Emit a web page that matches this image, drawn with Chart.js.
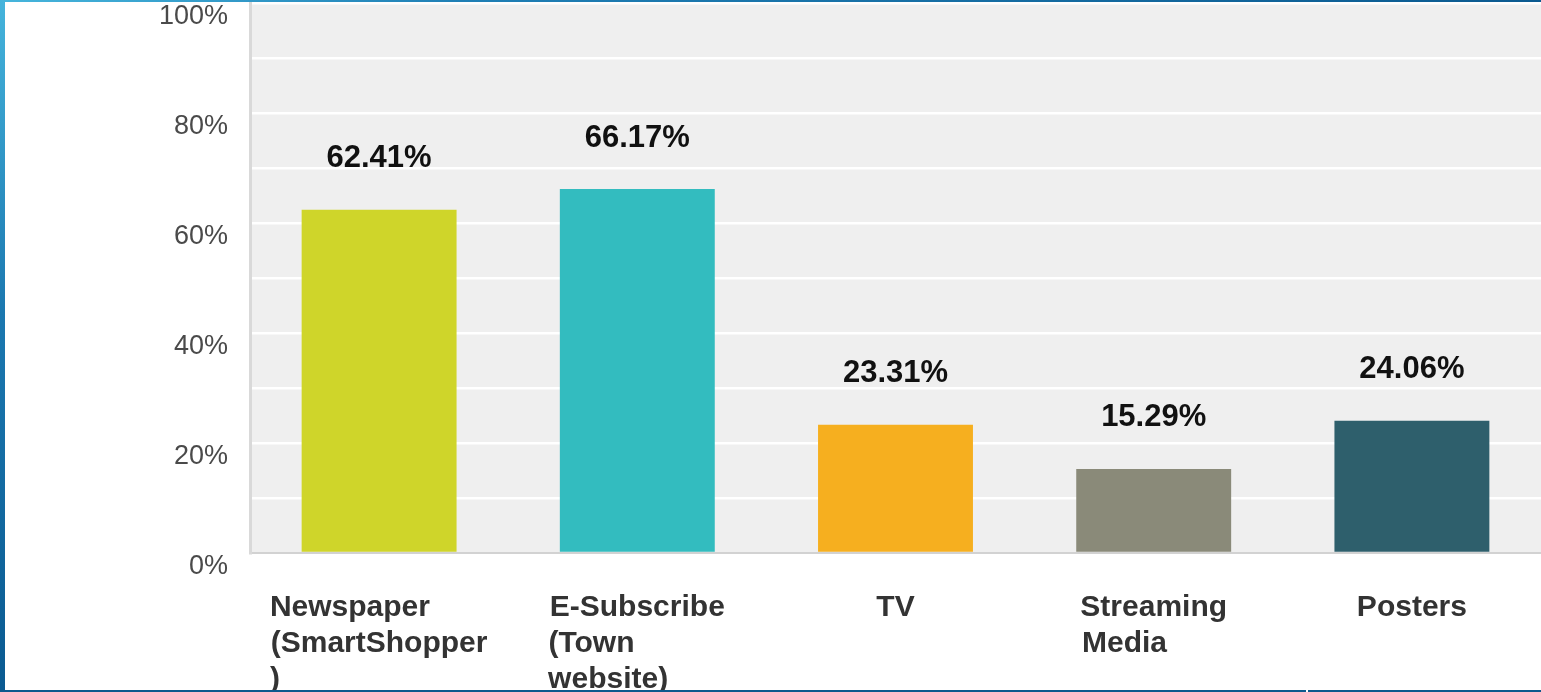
<!DOCTYPE html>
<html lang="en">
<head>
  <meta charset="UTF-8">
  <title>Media reach</title>
  <script src="https://cdn.jsdelivr.net/npm/chart.js"></script>
  <style>
    html, body { margin:0; padding:0; background:#fff; overflow:hidden; }
    .wrap { position:relative; width:1541px; height:692px; }
    canvas { position:absolute; left:0; top:0; }
    .bar-top { position:absolute; left:0; top:0; width:1541px; height:2px; background:linear-gradient(90deg,#46b5dc,#1f7fb5 30%,#0b5a90); z-index:2; }
    .bar-left { position:absolute; left:0; top:0; width:5px; height:692px; background:linear-gradient(180deg,#45b4dc,#1b78b0 45%,#0a5a91); z-index:2; }
    .bar-bottom { position:absolute; top:690px; height:2px; background:#0d5a8d; z-index:2; }
  </style>
</head>
<body>
<div class="wrap">
  <canvas id="chart" width="1541" height="692"></canvas>
  <div class="bar-top"></div>
  <div class="bar-left"></div>
  <div class="bar-bottom" style="left:0;width:1306px"></div>
  <div class="bar-bottom" style="left:1308px;width:233px"></div>
</div>

<script>
// data
const categories = [
  ['Newspaper', '(SmartShopper', ')'],
  ['E-Subscribe', '(Town', 'website)'],
  ['TV'],
  ['Streaming', 'Media'],
  ['Posters']
];
const shares = [62.41, 66.17, 23.31, 15.29, 24.06];
const barColors = ['#cfd52a', '#33bcbf', '#f6af1f', '#8a8a79', '#2e5f6c'];
const yTicks = [0, 20, 40, 60, 80, 100];

const FONT = "'Liberation Sans', Arial, sans-serif";
const X_FONT_SIZE = 30;

// lines inside one label are left aligned: pad shorter ones with trailing spaces
const mctx = document.createElement('canvas').getContext('2d');
mctx.font = 'bold ' + X_FONT_SIZE + 'px ' + FONT;
function padLines(lines){
  const sw = mctx.measureText(' ').width;
  const max = Math.max(...lines.map(l => mctx.measureText(l).width));
  return lines.map(l => l + ' '.repeat(Math.round((max - mctx.measureText(l).width) / sw)));
}
const labels = categories.map(padLines);

// grey plot background
const plotBg = {
  id:'plotBg',
  beforeDraw(chart){
    const {ctx, chartArea:a} = chart;
    ctx.save(); ctx.fillStyle = '#efefef';
    ctx.fillRect(a.left, a.top, a.right - a.left, a.bottom - a.top);
    ctx.restore();
  }
};

// value labels above the bars
const valueLabels = {
  id:'valueLabels',
  afterDatasetsDraw(chart){
    const ctx = chart.ctx;
    ctx.save();
    ctx.font = 'bold 31px ' + FONT;
    ctx.fillStyle = '#111';
    ctx.textAlign = 'center'; ctx.textBaseline = 'middle';
    chart.getDatasetMeta(0).data.forEach((bar, i) => {
      ctx.fillText(shares[i].toFixed(2) + '%', bar.x, bar.y - 51);
    });
    ctx.restore();
  }
};

new Chart(document.getElementById('chart'), {
  type:'bar',
  data:{ labels, datasets:[{ data:shares, backgroundColor:barColors, borderWidth:0, barPercentage:0.6, categoryPercentage:1 }] },
  options:{
    responsive:false, animation:false,
    layout:{ padding:{ top:3, right:0, bottom:0, left:0 } },
    plugins:{ legend:{display:false}, tooltip:{enabled:false} },
    scales:{
      x:{
        grid:{ display:false, drawTicks:false },
        border:{ display:true, color:'#d2d2d2', width:2 },
        ticks:{ color:'#333', font:{ family:FONT, size:X_FONT_SIZE, weight:'bold', lineHeight:1.2 }, padding:37, maxRotation:0, autoSkip:false },
        afterFit(s){ s.height = 139; s.paddingLeft = 0; s.paddingRight = 0; }
      },
      y:{
        min:0, max:100,
        grid:{ color:'#ffffff', lineWidth:2.5, drawTicks:false },
        border:{ display:true, color:'#d9d9d9', width:3 },
        ticks:{
          stepSize:10, autoSkip:false, padding:22, labelOffset:14,
          color:'#4a4a4a', font:{ family:FONT, size:27 },
          callback: v => yTicks.includes(v) ? v + '%' : ''
        },
        afterFit(s){ s.width = 250; s.paddingTop = 0; s.paddingBottom = 0; }
      }
    }
  },
  plugins:[plotBg, valueLabels]
});
</script>
</body>
</html>
